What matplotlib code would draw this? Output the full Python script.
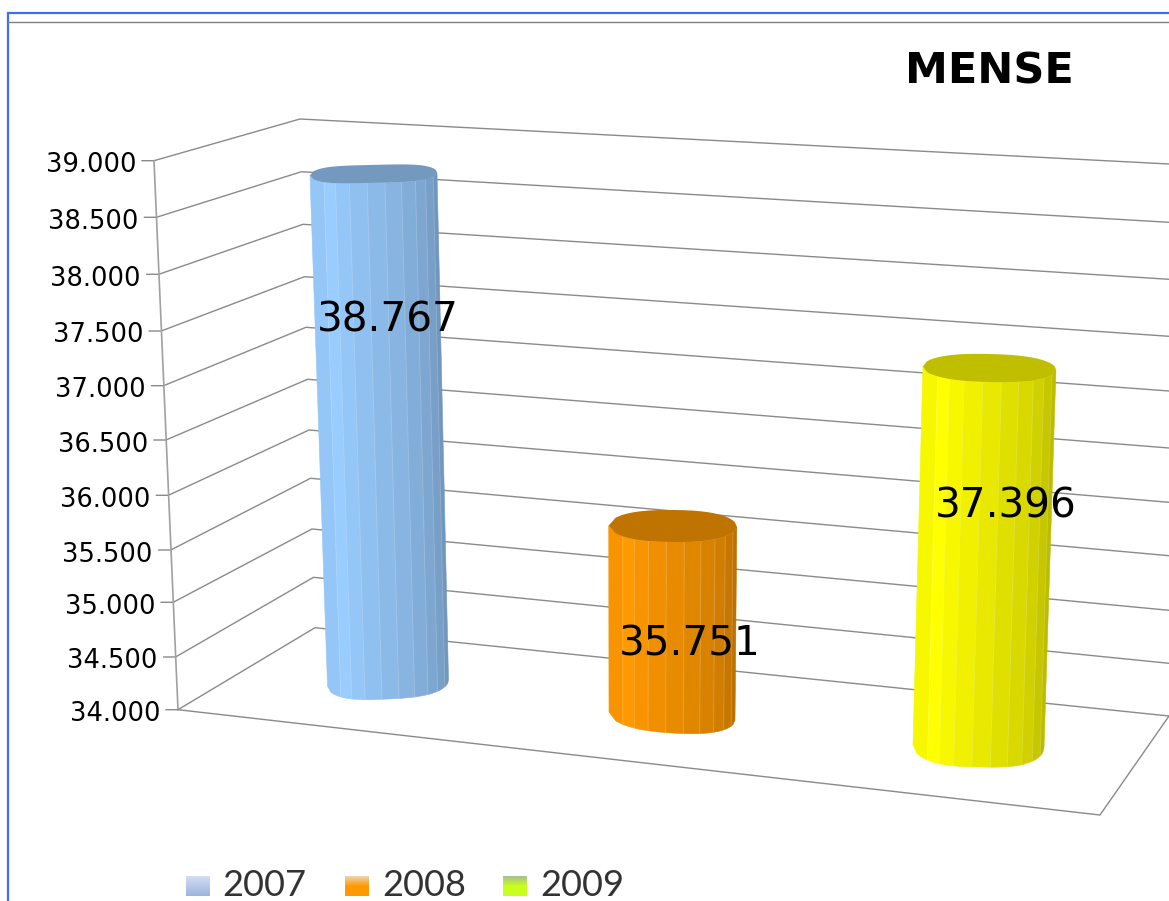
# -*- coding: utf-8 -*-
import numpy as np
import matplotlib
matplotlib.use('Agg')
import matplotlib.pyplot as plt
from matplotlib.patches import Polygon
from matplotlib.colors import to_rgb

# data
title = 'MENSE'
years = ['2007', '2008', '2009']
values = [38767, 35751, 37396]
value_labels = ['38.767', '35.751', '37.396']
axis_ticks = [34000, 34500, 35000, 35500, 36000, 36500, 37000, 37500, 38000, 38500, 39000]
tick_labels = ['34.000', '34.500', '35.000', '35.500', '36.000', '36.500',
               '37.000', '37.500', '38.000', '38.500', '39.000']

# styles
bar_colors = ['#99CCFF', '#FF9900', '#FFFF00']
legend_top = ['#D3DDF1', '#EFD3AE', '#A9C08F']
legend_bottom = ['#9DB4DF', '#FF9900', '#C8FF1C']
shades = [0.97, 1.0, 0.97, 0.94, 0.91, 0.88, 0.85, 0.82, 0.78, 0.74]
facet_edges = [0, 0.11, 0.20, 0.31, 0.45, 0.59, 0.72, 0.83, 0.91, 0.97, 1]
line_color = '#8a8a8a'

# box geometry in pixels, the picture is a hand tilted 3d box
front_x = [178, 154]
back_x = [315, 300]
front_y = [709.7, 657, 602.3, 550, 495.3, 440, 385.7, 331, 274.3, 217.3, 160.7]
back_y = [627.7, 577.3, 529, 478.3, 430, 379.3, 327.3, 276.7, 224.3, 171.7, 119]
right_y = [716, 663.3, 610.3, 555.7, 502.3, 448, 391, 336.3, 279.3, 222.3, 164]
right_x = 1169
floor_corner = (1100, 815)

# bar geometry in pixels
base_x = [388, 672, 978.5]
base_y = [683, 716, 746]
base_rx = [60.5, 63, 65.5]
base_ry = [16, 17, 21]
base_tilt = [-3, 4, 1.5]
top_rx = [63.5, 64, 66.5]
top_ry = [9, 16, 14]
top_tilt = [-1.5, 0.5, 1.5]
top_power = [4, 2.5, 2.5]
base_power = [3, 2.5, 3]
lean = [-0.0285, 0.004, 0.029]
px_per_unit = [0.1068, 0.1085, 0.1113]
arc_steps = [4, 2, 4]
label_x = [388, 690, 1006]
label_y = [320, 644, 506]


def side_x(v, xs):
    f = (v - axis_ticks[0]) / (axis_ticks[-1] - axis_ticks[0])
    return xs[0] + f * (xs[1] - xs[0])


def arc(cx, cy, rx, ry, tilt, power, frac):
    t = 2 * np.asarray(frac, dtype=float) - 1
    return cx + rx * t, cy + ry * np.clip(1 - np.abs(t) ** power, 0, None) ** 0.5 + tilt * t


def shaded(color, k):
    return tuple(c * k for c in to_rgb(color))


def draw_bar(ax, i):
    height = (values[i] - axis_ticks[0]) * px_per_unit[i]
    cx_top = base_x[i] + lean[i] * height
    cy_top = base_y[i] - height
    top = (cx_top, cy_top, top_rx[i], top_ry[i], top_tilt[i], top_power[i])
    bottom = (base_x[i], base_y[i], base_rx[i], base_ry[i], base_tilt[i], base_power[i])
    rim = []
    for k in range(len(shades)):
        fr = np.linspace(facet_edges[k], facet_edges[k + 1], arc_steps[i] + 1)
        xt, yt = arc(*top, fr)
        xb, yb = arc(*bottom, fr)
        corners = list(zip(xt, yt)) + list(zip(xb[::-1], yb[::-1]))
        col = shaded(bar_colors[i], shades[k])
        ax.add_patch(Polygon(corners, closed=True, facecolor=col, edgecolor=col, lw=0.4, zorder=3))
        if k > 0:
            ax.plot([xt[0], xb[0]], [yt[0], yb[0]], color='white', alpha=0.18, lw=0.7, zorder=4)
        rim.extend(zip(xt, yt))
    # top cap, back rim is the front rim mirrored
    rim = np.array(rim)
    mid = cy_top + top_tilt[i] * (rim[:, 0] - cx_top) / top_rx[i]
    back = np.column_stack((rim[:, 0], 2 * mid - rim[:, 1]))[::-1]
    ax.add_patch(Polygon(np.vstack((rim, back)), closed=True, facecolor=shaded(bar_colors[i], 0.75),
                         edgecolor='none', zorder=5))


fig = plt.figure(figsize=(11.69, 9.01), dpi=100)
ax = fig.add_axes([0, 0, 1, 1])
ax.set_xlim(0, 1169)
ax.set_ylim(901, 0)
ax.axis('off')

# frame of the pasted picture
ax.plot([8, 8, 1169], [901, 13, 13], color='#3F6DF5', lw=1.6, solid_joinstyle='miter')
ax.plot([8, 1169], [22, 22], color='#808080', lw=1)

# walls and floor
for j, v in enumerate(axis_ticks):
    fx = side_x(v, front_x)
    bx = side_x(v, back_x)
    ax.plot([fx - 12, fx, bx, right_x], [front_y[j], front_y[j], back_y[j], right_y[j]],
            color=line_color, lw=1, zorder=1)
    ax.text(fx - 18, front_y[j] + 4.5, tick_labels[j], ha='right', va='center', fontsize=18.5,
            family='DejaVu Sans', color='black')
ax.plot(front_x, [front_y[0], front_y[-1]], color='#a0a0a0', lw=1.2, zorder=1)
ax.plot([front_x[0], floor_corner[0], right_x], [front_y[0], floor_corner[1], right_y[0]],
        color=line_color, lw=1, zorder=1)

for i in range(len(values)):
    draw_bar(ax, i)
    ax.text(label_x[i], label_y[i], value_labels[i], ha='center', va='center',
            fontsize=29.2, family='DejaVu Sans', color='black', zorder=6)

ax.text(989, 72, title, ha='center', va='center', fontsize=31, fontweight='bold',
        family='DejaVu Sans', color='black')

# legend, swatches fade from top to bottom
swatch_x = [186, 345, 503]
text_x = [222, 382, 540]
fade_len = [1.0, 0.5, 0.5]
for i, year in enumerate(years):
    c0, c1 = np.array(to_rgb(legend_top[i])), np.array(to_rgb(legend_bottom[i]))
    f = np.clip(np.linspace(0, 1, 20) / fade_len[i], 0, 1)[:, None, None]
    grad = c0 + (c1 - c0) * f
    ax.imshow(grad, extent=(swatch_x[i], swatch_x[i] + 24, 896, 876), aspect='auto', zorder=2)
    ax.text(text_x[i], 885, year, ha='left', va='center', fontsize=26, family='Lato', color='#333333')
ax.set_xlim(0, 1169)
ax.set_ylim(901, 0)

fig.savefig('out.png', dpi=100)
